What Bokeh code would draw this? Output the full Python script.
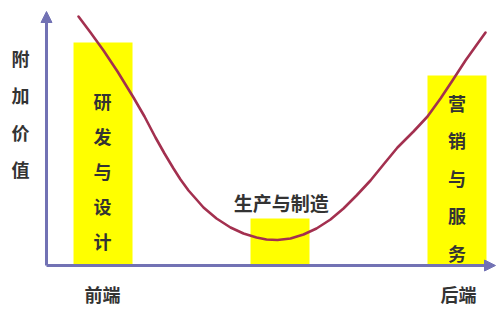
from bokeh.plotting import figure
from bokeh.models import Range1d, Arrow, NormalHead
from bokeh.core.properties import value
from bokeh.embed import file_html
from bokeh.resources import INLINE

# ---- data ----
stages = ["研发与设计", "生产与制造", "营销与服务"]
stage_x = [1.256, 5.189, 9.122]
stage_value = [8.92, 1.88, 7.6]

curve_x = [0.711, 0.978, 1.267, 1.578, 1.933, 2.178, 2.422, 2.622, 2.822, 2.978,
           3.156, 3.333, 3.489, 3.778, 4.089, 4.378, 4.667, 4.889, 5.133, 5.422,
           5.711, 6.0, 6.311, 6.6, 6.889, 7.2, 7.489, 7.8, 8.156, 8.467,
           8.756, 9.022, 9.311, 9.533, 9.756]
curve_y = [9.96, 9.32, 8.6, 7.76, 6.72, 5.96, 5.12, 4.48, 3.88, 3.44,
           3.0, 2.64, 2.32, 1.88, 1.52, 1.28, 1.12, 1.04, 1.02, 1.08,
           1.24, 1.48, 1.84, 2.28, 2.8, 3.4, 4.04, 4.72, 5.36, 5.96,
           6.68, 7.4, 8.2, 8.76, 9.32]

y_title = "附加价值"
x_start_label = "前端"
x_end_label = "后端"

FONT = value("Noto Sans CJK SC")
TXT = "#333333"
AXIS = "#7272b4"

p = figure(width=496, height=309, output_backend="svg", toolbar_location=None,
           x_range=Range1d(-1.0222, 10.0), y_range=Range1d(-1.76, 10.6),
           x_axis_type=None, y_axis_type=None, min_border=0)
p.grid.visible = False
p.outline_line_color = None
p.background_fill_color = "white"

# bars
p.vbar(x=stage_x, top=stage_value, bottom=0, width=1.311,
       fill_color="#ffff00", line_color=None)

# curve
p.line(curve_x, curve_y, line_color="#a3304f", line_width=2.6,
       line_join="round", line_cap="round")

# axes with arrows
p.add_layout(Arrow(x_start=0, y_start=0, x_end=0, y_end=10.16,
                   line_color=AXIS, line_width=3,
                   end=NormalHead(size=11, fill_color=AXIS, line_color=AXIS)))
p.add_layout(Arrow(x_start=0, y_start=0, x_end=9.978, y_end=0,
                   line_color=AXIS, line_width=3,
                   end=NormalHead(size=11, fill_color=AXIS, line_color=AXIS)))

def vertical_text(s, x, y0, step, size):
    xs, ys, ts = [], [], []
    for i, ch in enumerate(s):
        xs.append(x)
        ys.append(y0 - i * step)
        ts.append(ch)
    p.text(x=xs, y=ys, text=ts, text_font=FONT, text_font_size=size,
           text_font_style="bold", text_color=TXT,
           text_align="center", text_baseline="middle")

vertical_text(stages[0], stage_x[0] - 0.01, 6.6, 1.4, "18px")
vertical_text(stages[2], stage_x[2], 6.52, 1.505, "18px")
vertical_text(y_title, -0.578, 8.32, 1.48, "18px")

p.text(x=[stage_x[1] + 0.03], y=[2.52], text=[stages[1]], text_font=FONT,
       text_font_size="19px", text_font_style="bold", text_color=TXT,
       text_align="center", text_baseline="middle")

p.text(x=[1.244, 9.156], y=[-1.12, -1.12], text=[x_start_label, x_end_label],
       text_font=FONT, text_font_size="18px", text_font_style="bold",
       text_color=TXT, text_align="center", text_baseline="middle")

open("out.html", "w").write(file_html(p, INLINE))
